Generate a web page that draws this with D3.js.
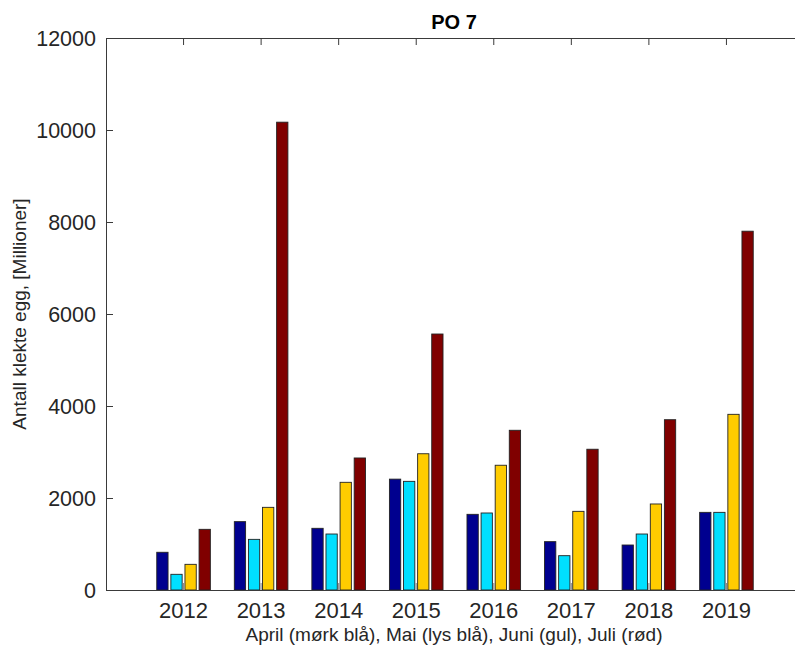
<!DOCTYPE html>
<html>
<head>
<meta charset="utf-8">
<script src="https://cdn.jsdelivr.net/npm/d3@7"></script>
<style>
  body { margin: 0; background: #fff; }
  svg { display: block; font-family: "Liberation Sans", Arial, Helvetica, sans-serif; }
</style>
</head>
<body>
<svg id="chart" width="795" height="650"></svg>
<script>
// Hatched eggs per month and year, PO 7 (millions)
const years = [2012, 2013, 2014, 2015, 2016, 2017, 2018, 2019];
const months = ["April", "Mai", "Juni", "Juli"];
const april = [820, 1486, 1341, 2410, 1645, 1051, 978, 1688];
const mai   = [341, 1101, 1217, 2362, 1674, 746, 1217, 1688];
const juni  = [558, 1797, 2341, 2962, 2712, 1710, 1870, 3819];
const juli  = [1319, 10170, 2870, 5565, 3472, 3060, 3702, 7800];
const yTicks = [0, 2000, 4000, 6000, 8000, 10000, 12000];
const monthColors = ["#00008f", "#00dfff", "#ffcc00", "#800000"];

const series = [april, mai, juni, juli];

const svg = d3.select("#chart");
const pLeft = 106, pRight = 804, pTop = 38, pBottom = 590;
const axisColor = "#3a3a3a";

const x = d3.scaleLinear().domain([2011, 2020]).range([pLeft, pRight]);
const y = d3.scaleLinear().domain([0, 12000]).range([pBottom, pTop]);

// grouped bar layout inside one category step
const step = x(2012) - x(2011);
const groupWidth = step * Math.min(0.8, 4 / 5.5);
const inner = d3.scaleBand().domain(months)
  .range([-groupWidth / 2, groupWidth / 2])
  .paddingInner(0.2).paddingOuter(0.1);

const plot = svg.append("g");

// bottom tick marks (drawn beneath the bars)
plot.selectAll("line.xtick-b").data(years).join("line")
  .attr("x1", d => x(d)).attr("x2", d => x(d))
  .attr("y1", pBottom).attr("y2", pBottom - 7)
  .attr("stroke", "#888").attr("stroke-width", 1);

// bars
const rows = [];
years.forEach((yr, i) => months.forEach((m, j) => rows.push({ yr, m, j, v: series[j][i] })));
plot.selectAll("rect.bar").data(rows).join("rect")
  .attr("class", "bar")
  .attr("x", d => x(d.yr) + inner(d.m))
  .attr("width", inner.bandwidth())
  .attr("y", d => y(d.v))
  .attr("height", d => y(0) - y(d.v))
  .attr("fill", d => monthColors[d.j])
  .attr("stroke", "#222")
  .attr("stroke-width", 0.9);

// axes frame
const frame = svg.append("g").attr("stroke", axisColor).attr("stroke-width", 1).attr("fill", "none");
frame.append("line").attr("x1", pLeft + 0.5).attr("x2", pLeft + 0.5).attr("y1", pTop).attr("y2", pBottom);
frame.append("line").attr("x1", pLeft).attr("x2", pRight).attr("y1", pBottom + 0.5).attr("y2", pBottom + 0.5);
frame.append("line").attr("x1", pLeft).attr("x2", pRight).attr("y1", pTop + 0.5).attr("y2", pTop + 0.5);

// top tick marks
frame.selectAll("line.xtick-t").data(years).join("line")
  .attr("x1", d => x(d)).attr("x2", d => x(d))
  .attr("y1", pTop).attr("y2", pTop + 7);

// y ticks
frame.selectAll("line.ytick").data(yTicks).join("line")
  .attr("x1", pLeft).attr("x2", pLeft + 7)
  .attr("y1", d => y(d) + 0.5).attr("y2", d => y(d) + 0.5);

// y tick labels
svg.append("g").selectAll("text").data(yTicks).join("text")
  .attr("x", pLeft - 10).attr("y", d => y(d))
  .attr("dy", "0.35em")
  .attr("text-anchor", "end")
  .attr("font-size", 21.5).attr("fill", "#262626")
  .text(d => d);

// x tick labels
svg.append("g").selectAll("text").data(years).join("text")
  .attr("x", d => x(d)).attr("y", 618)
  .attr("text-anchor", "middle")
  .attr("font-size", 22).attr("fill", "#262626")
  .text(d => d);

// axis titles
svg.append("text")
  .attr("x", 454).attr("y", 641)
  .attr("text-anchor", "middle")
  .attr("font-size", 19).attr("fill", "#262626")
  .text("April (mørk blå), Mai (lys blå), Juni (gul), Juli (rød)");

svg.append("text")
  .attr("transform", `translate(26, ${(pTop + pBottom) / 2}) rotate(-90)`)
  .attr("text-anchor", "middle")
  .attr("font-size", 19).attr("fill", "#262626")
  .text("Antall klekte egg, [Millioner]");

svg.append("text")
  .attr("x", 454).attr("y", 29)
  .attr("text-anchor", "middle")
  .attr("font-size", 20).attr("font-weight", "bold").attr("fill", "#000")
  .text("PO 7");
</script>
</body>
</html>
